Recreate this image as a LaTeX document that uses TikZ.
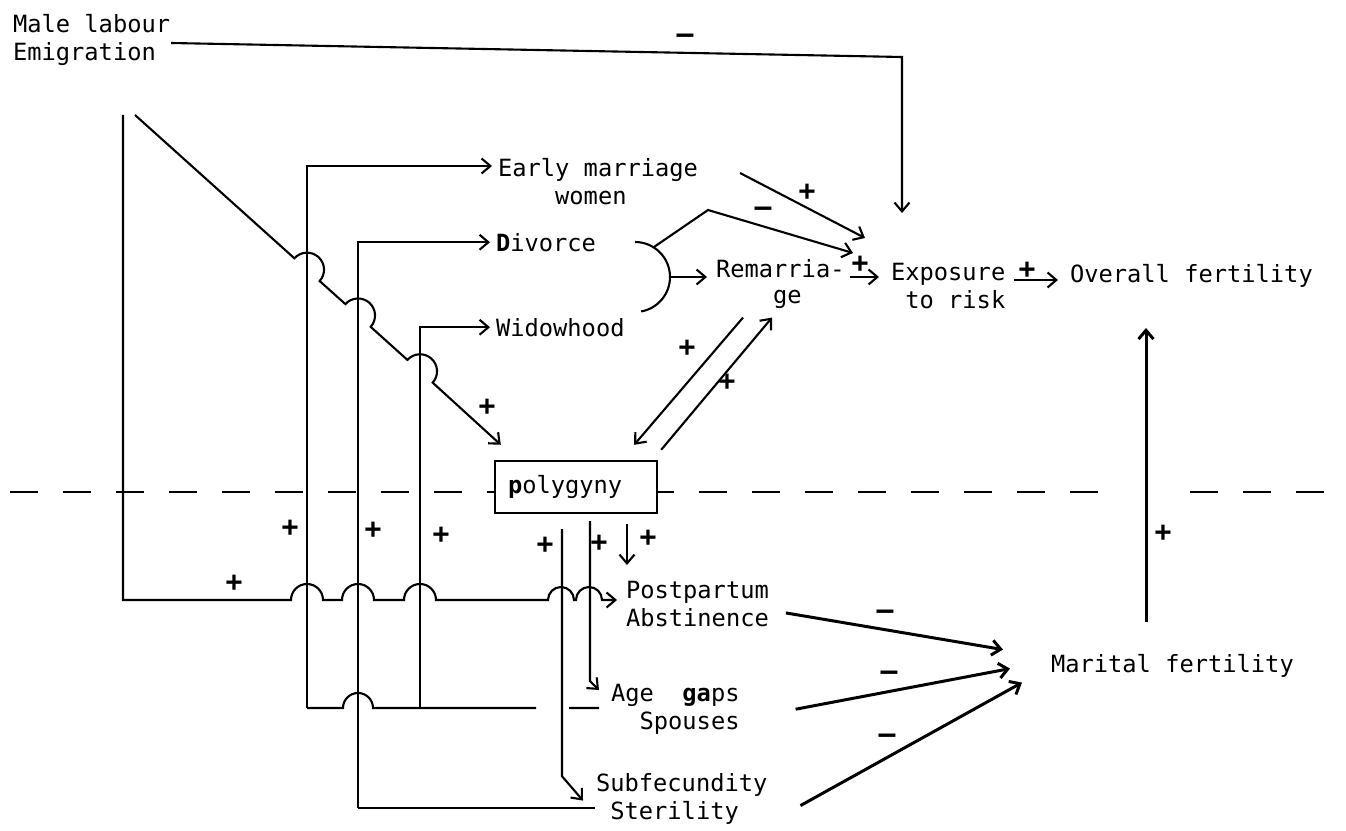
\documentclass[tikz,border=0pt]{standalone}
\usepackage{fontspec}
\newfontfamily\typewr{DejaVu Sans Mono}
\usetikzlibrary{arrows.meta, calc}

\begin{document}
\begin{tikzpicture}[x=0.02cm, y=-0.02cm, line width=1.2pt,
    txt/.style={font=\typewr\fontsize{13.5}{16}\selectfont, inner sep=0pt, anchor=north west, align=left},
    sign/.style={font=\typewr\bfseries\fontsize{16}{16}\selectfont, inner sep=0pt},
    arr/.style={-{Straight Barb[length=5pt, width=8.5pt]}},
    heavy/.style={line width=1.7pt},
    polybox/.style={draw, fill=white, line width=1.4pt, minimum width=3.24cm, minimum height=1.04cm,
        text width=2.72cm, inner xsep=0.26cm, inner ysep=0pt, align=left,
        font=\typewr\fontsize{13.5}{16}\selectfont}]
    \useasboundingbox (0,0) rectangle (1346,831);

    % Separator
    \draw[line width=1.4pt, dash pattern=on 0.56cm off 0.5cm] (10,492) -- (1118,492);
    \draw[line width=1.4pt, dash pattern=on 0.56cm off 0.5cm] (1190,492) -- (1346,492);

    % Factors
    \node (emig) [txt] at (12,13) {Male labour\\Emigration};
    \node (early) [txt] at (497,157) {Early marriage\\\phantom{xxxx}women};
    \node (div) [txt] at (495,232) {\textbf{D}ivorce};
    \node (wid) [txt] at (495,317) {Widowhood};
    \node (remar) [txt] at (715,258) {Remarria-\\[-1pt]\phantom{xxxx}ge};
    \node (expo) [txt] at (890,262) {Exposure\\\phantom{x}to risk};
    \node (overall) [txt] at (1069,263) {Overall fertility};
    \node (poly) [polybox] at (576,487) {\textbf{p}olygyny};
    \node (post) [txt] at (625,580) {Postpartum\\Abstinence};
    \node (age) [txt] at (610,683) {Age\phantom{xx}\textbf{ga}ps\\\phantom{xx}Spouses};
    \node (sub) [txt] at (595,772) {Subfecundity\\\phantom{x}Sterility};
    \node (marital) [txt] at (1050,653) {Marital fertility};

    \coordinate (emC) at (902,57);
    \coordinate (emL) at (123,115);
    \coordinate (emD) at (135,115);
    \coordinate (v1b) at (307,708);
    \coordinate (v2b) at (358,808);
    \coordinate (v3b) at (420,708);
    \coordinate (brk) at (670,277);

    % Emigration
    \draw[arr, shorten >=0.98cm] (emig.east |- 0,43) -- (emC) -- (emC |- expo.north);
    \draw[arr, shorten >=0.16cm] (emL) -- (123,600) -- (291,600) arc[start angle=180, end angle=360, radius=16]
        -- (342,600) arc[start angle=180, end angle=360, radius=16]
        -- (404,600) arc[start angle=180, end angle=360, radius=16]
        -- (548,600) arc[start angle=180, end angle=360, radius=13]
        -- (576,600) arc[start angle=180, end angle=360, radius=13] -- (post.west |- 0,600);
    \draw[arr] (emD) -- (294.4,258.3) arc[start angle=222, end angle=402, radius=17]
        -- (345.4,304.1) arc[start angle=222, end angle=402, radius=17]
        -- (407.4,359.9) arc[start angle=222, end angle=402, radius=17]
        -- ([shift={(7,-15)}]poly.north west);

    % Feedback from the lower part
    \draw[arr, shorten >=0.1cm] (v1b) |- ($(early.north west)+(0,9)$);
    \draw[arr, shorten >=0.1cm] (v2b) |- (div);
    \draw[arr, shorten >=0.1cm] (v3b) |- (wid);
    \draw[shorten >=0.22cm] (v1b) -- (343,708) arc[start angle=180, end angle=360, radius=15]
        -- (536,708) (569,708) -- (age.west |- v1b);
    \draw (v2b) -- (v2b -| sub.west);

    % Divorce and widowhood
    \draw (635,242) arc[start angle=-90, end angle=80, radius=35];
    \draw[arr, shorten >=0.16cm] (brk) -- (brk -| remar.west);
    \draw[arr] (654,247) -- (708,210) -- ([shift={(-37,-9)}]expo.north west);
    \draw[arr] ([shift={(41,16)}]early.north east) -- ([shift={(-25,-24)}]expo.north west);

    % Exposure
    \draw[arr, shorten <=0.08cm, shorten >=0.22cm] (remar.north east |- brk) -- (brk -| expo.west);
    \draw[arr] ([shift={(8,18)}]expo.north east) -- ([shift={(-11,17)}]overall.north west);
    \draw[arr] ([shift={(28,8)}]remar.south west) -- ([shift={(-24,-15)}]poly.north east);
    \draw[arr] ([shift={(3,-10)}]poly.north east) -- ([shift={(57,8)}]remar.south west);

    % Polygyny
    \draw[arr] ([shift={(-14,15)}]poly.south) -- ++(0,247) -- ([shift={(-12,2)}]sub.west);
    \draw[arr] ([shift={(14,7)}]poly.south) -- ++(0,160) -- ([shift={(-11,7)}]age.north west);
    \draw[arr] ([shift={(51,10)}]poly.south) -- ([shift={(2,-15)}]post.north west);

    % Marital fertility
    \draw[arr, heavy] ([shift={(16,9)}]post.east) -- ([shift={(-47,-16)}]marital.west);
    \draw[arr, heavy] ([shift={(55,0)}]age.east) -- ([shift={(-40,3)}]marital.west);
    \draw[arr, heavy] ([shift={(32,7)}]sub.east) -- ([shift={(-28,17)}]marital.west);
    \draw[arr, heavy] ([shift={(96,-31)}]marital.north west) -- ([shift={(77,65)}]overall.north west);

    % Signs
    \node (sEmig) [sign] at (685,39) {–};
    \node (sEarly) [sign] at (807,192) {+};
    \node (sDiv) [sign] at (763,212) {–};
    \node (sRemExp) [sign] at (860,264) {+};
    \node (sExpOv) [sign] at (1027,270) {+};
    \node (sRemPol) [sign] at (687,348) {+};
    \node (sPolRem) [sign] at (727,382) {+};
    \node (sDiag) [sign] at (487,407) {+};
    \node (sV1) [sign] at (290,528) {+};
    \node (sV2) [sign] at (373,530) {+};
    \node (sV3) [sign] at (441,535) {+};
    \node (sSub) [sign] at (545,545) {+};
    \node (sAge) [sign] at (599,543) {+};
    \node (sPost) [sign] at (648,538) {+};
    \node (sLeft) [sign] at (234,583) {+};
    \node (sMar1) [sign] at (885,615) {–};
    \node (sMar2) [sign] at (889,676) {–};
    \node (sMar3) [sign] at (887,739) {–};
    \node (sMarOv) [sign] at (1163,533) {+};
\end{tikzpicture}
\end{document}
